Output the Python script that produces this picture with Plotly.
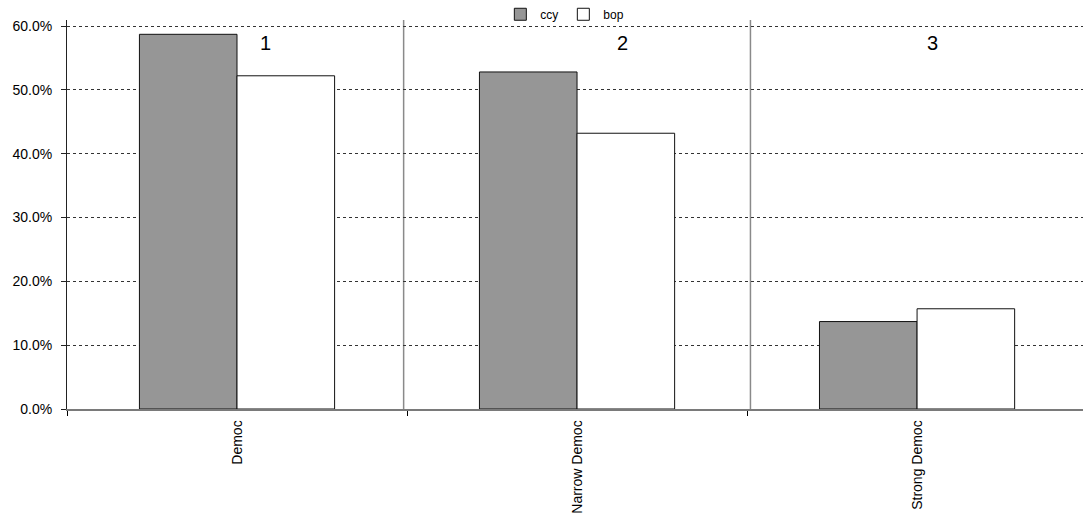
import plotly.graph_objects as go

categories = ["Democ", "Narrow Democ", "Strong Democ"]
ccy = [0.587, 0.528, 0.137]
bop = [0.522, 0.432, 0.157]
group_numbers = ["1", "2", "3"]
y_ticks = [0.0, 0.1, 0.2, 0.3, 0.4, 0.5, 0.6]

FONT = "Liberation Sans, Arial, sans-serif"

fig = go.Figure()
fig.add_trace(go.Bar(
    name="ccy", x=categories, y=ccy,
    marker=dict(color="#969696", line=dict(color="#111111", width=1)),
))
fig.add_trace(go.Bar(
    name="bop", x=categories, y=bop,
    marker=dict(color="#ffffff", line=dict(color="#111111", width=1)),
))

# gray separators between the three groups
for xs in (0.49, 1.51):
    fig.add_shape(type="line", xref="x", yref="paper", x0=xs, x1=xs,
                  y0=0, y1=1.0, line=dict(color="#8a8a8a", width=1.5),
                  layer="below")

# group numbers near the top of each panel
for xpos, label in zip([0.085, 1.135, 2.045], group_numbers):
    fig.add_annotation(x=xpos, y=0.574, xref="x", yref="y", text=label,
                       showarrow=False, font=dict(size=20, color="#000000", family=FONT))

fig.update_layout(
    width=1083, height=525,
    margin=dict(l=67, r=0, t=20, b=116, autoexpand=False),
    paper_bgcolor="#ffffff", plot_bgcolor="#ffffff",
    barmode="group", bargap=0.426, bargroupgap=0.0,
    font=dict(family=FONT, color="#000000"),
    hovermode=False,
    legend=dict(orientation="h", x=0.49, xanchor="center", y=1.052, yanchor="top",
                font=dict(size=12, family=FONT, color="#000000"), itemwidth=30,
                bgcolor="rgba(0,0,0,0)", tracegroupgap=0),
    xaxis=dict(
        type="category", range=[-0.5, 2.488],
        showline=True, linecolor="#7a7a7a", linewidth=1.5,
        ticks="outside", tickson="boundaries", ticklen=5, tickcolor="#000000",
        tickangle=-90, tickfont=dict(size=14, family=FONT),
        ticklabelstandoff=4,
        showgrid=False, zeroline=False,
    ),
    yaxis=dict(
        range=[0, 0.6094], tickvals=y_ticks, tickformat=".1%",
        showline=True, linecolor="#222222", linewidth=1,
        ticks="outside", ticklen=5, tickcolor="#222222",
        tickfont=dict(size=14, family=FONT),
        ticklabelstandoff=6,
        showgrid=True, gridcolor="#333333", gridwidth=1, griddash="3px,3px",
        zeroline=False,
    ),
)

fig.write_html("out.html")
